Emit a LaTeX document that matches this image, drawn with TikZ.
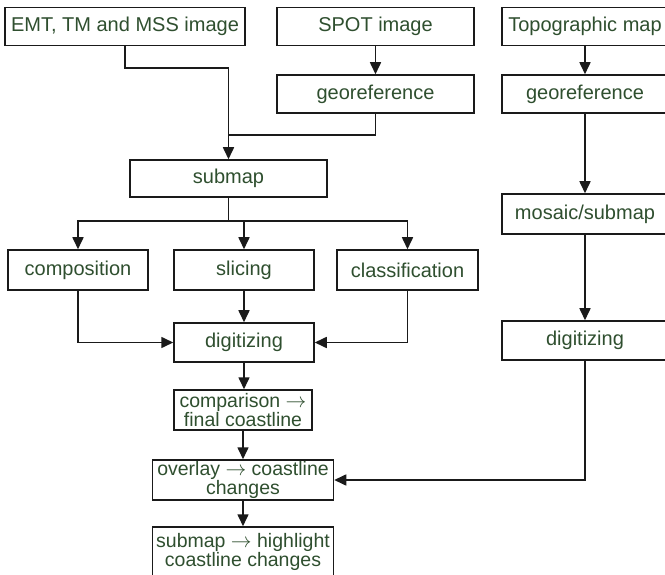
\documentclass[tikz,border=0pt]{standalone}
\usepackage{fontspec}
\setmainfont{Liberation Sans}
\usetikzlibrary{arrows.meta}
\definecolor{textgreen}{HTML}{2F4F2F}
\definecolor{linegray}{HTML}{1A1A1A}

\begin{document}
\begin{tikzpicture}[x=1pt, y=-1pt,
  box/.style={draw=linegray, line width=1.5pt, fill=white, inner sep=0pt,
    text=textgreen, align=center, minimum height=38pt,
    font=\fontsize{20}{18}\selectfont},
  twoline/.style={box, font=\fontsize{19.5}{17.5}\selectfont},
  link/.style={draw=linegray, line width=1.6pt},
  arr/.style={link, -{Triangle[width=11pt,length=12pt]}}]
\useasboundingbox[fill=white] (0,0) rectangle (665,575);
% left column
\node[box, minimum width=240pt] (emt) at (125,26.5) {EMT, TM and MSS image};
\node[box, minimum width=197pt] (spot) at (375.5,26.5) {SPOT image};
\node[box, minimum width=197pt] (geoa) at (375.5,94) {georeference};
\node[box, minimum width=197pt, minimum height=37pt] (submap) at (228.5,178.5) {submap};
\node[box, minimum width=140pt, minimum height=40pt] (comp) at (78,270) {composition};
\node[box, minimum width=140pt, minimum height=40pt] (slic) at (244,270) {slicing};
\node[box, minimum width=141pt, minimum height=40pt] (clas) at (407.5,270) {classification};
\node[box, minimum width=140pt, minimum height=39pt] (dig) at (244,342.5) {digitizing};
\node[twoline, minimum width=138pt, minimum height=40pt] (cmp) at (243,410) {comparison \(\rightarrow\)\\final coastline};
\node[twoline, minimum width=181pt, minimum height=40pt] (ovl) at (243,480) {overlay \(\rightarrow\) coastline\\changes};
\node[twoline, minimum width=181pt, minimum height=50pt] (hil) at (243,552) {submap \(\rightarrow\) highlight\\coastline changes};
% right column
\node[box, minimum width=166pt] (topo) at (585,26.5) {Topographic map};
\node[box, minimum width=166pt] (geob) at (585,94) {georeference};
\node[box, minimum width=166pt, minimum height=40pt] (mos) at (585,214) {mosaic/submap};
\node[box, minimum width=166pt, minimum height=39pt] (digb) at (585,340.5) {digitizing};
% connectors
\coordinate (join) at (228.5,135);
\draw[arr] (emt.south) -- ++(0,22) -| (submap.north);
\draw[link] (geoa.south) |- (join);
\draw[arr] (spot) -- (geoa);
\draw[arr] (topo) -- (geob);
\draw[arr] (geob) -- (mos);
\draw[arr] (mos) -- (digb);
\draw[link] (submap.south) -- ++(0,23) coordinate (fork);
\draw[arr] (fork) -| (comp.north);
\draw[arr] (fork) -| (slic.north);
\draw[arr] (fork) -| (clas.north);
\draw[arr] (comp.south) |- (dig.west);
\draw[arr] (clas.south) |- (dig.east);
\draw[arr] (slic) -- (dig);
\draw[arr] (dig.south) -- (cmp.north -| dig.south);
\draw[arr] (cmp) -- (ovl);
\draw[arr] (ovl) -- (hil);
\draw[arr] (digb.south) |- (ovl.east);
\end{tikzpicture}
\end{document}
